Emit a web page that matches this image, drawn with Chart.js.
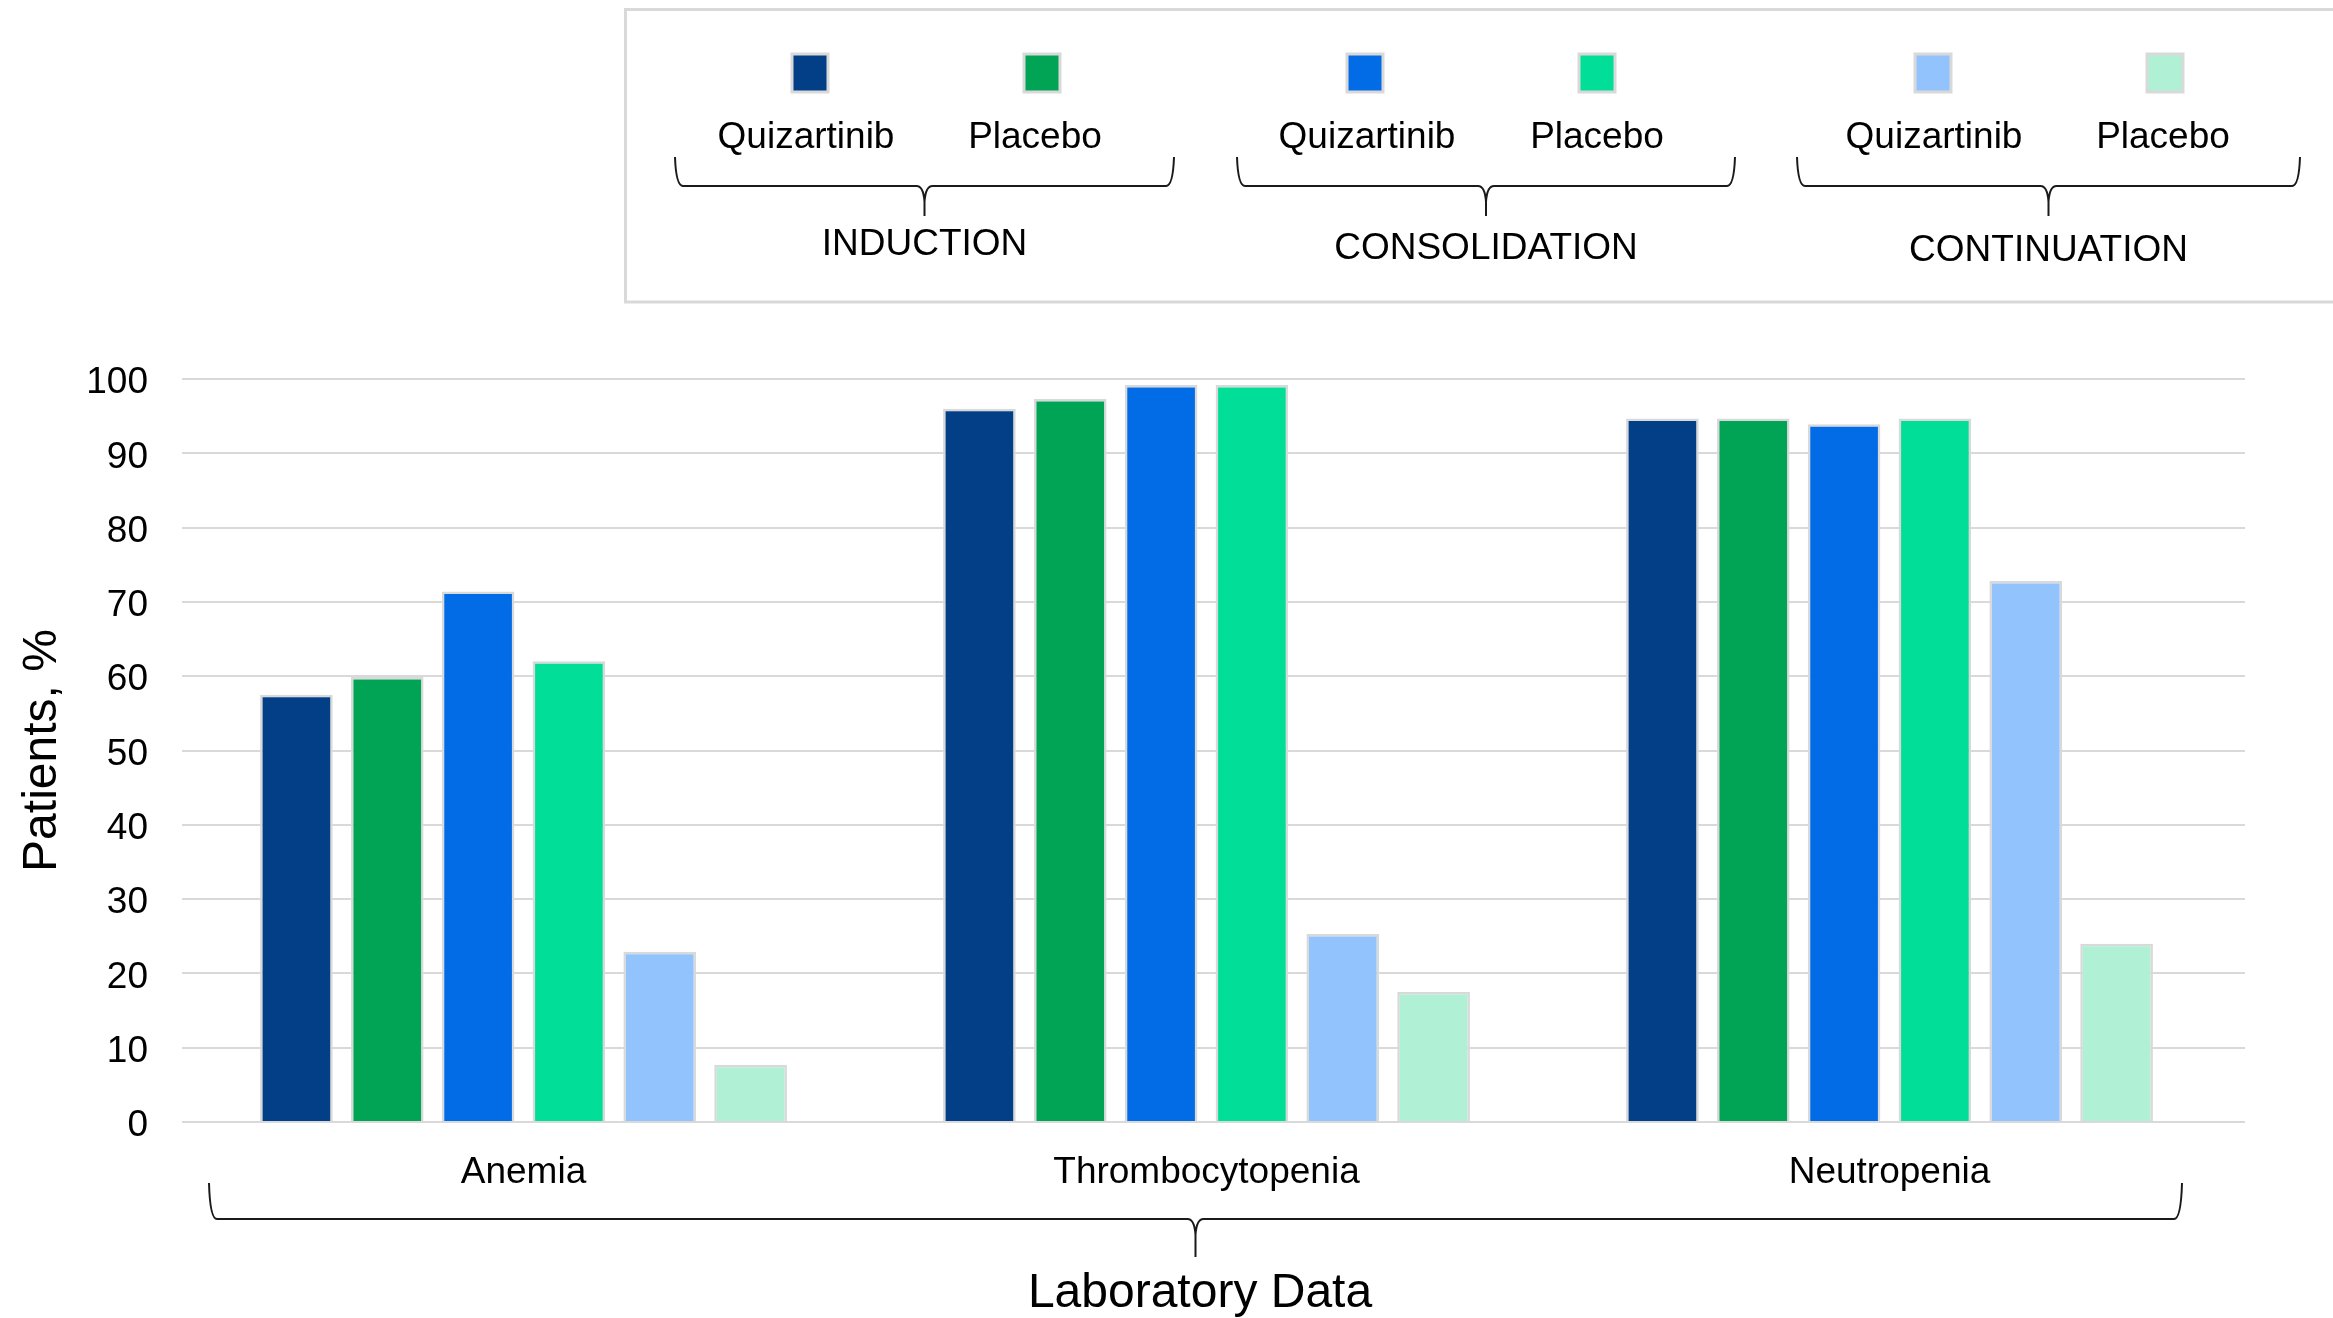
<!DOCTYPE html>
<html>
<head>
<meta charset="utf-8">
<script src="https://cdn.jsdelivr.net/npm/chart.js@4.4.1/dist/chart.umd.min.js"></script>
<style>
  body { margin: 0; background: #ffffff; }
  #lab-chart { display: block; }
</style>
</head>
<body>
<canvas id="lab-chart" width="2333" height="1318"></canvas>
<script>
// categories and series
const categories = ["Anemia", "Thrombocytopenia", "Neutropenia"];
const phases = ["INDUCTION", "CONSOLIDATION", "CONTINUATION"];
const arms = ["Quizartinib", "Placebo"];

const inductionQuizartinib = [57.5, 96.0, 94.7];
const inductionPlacebo = [59.9, 97.3, 94.7];
const consolidationQuizartinib = [71.4, 99.2, 93.9];
const consolidationPlacebo = [62.0, 99.2, 94.7];
const continuationQuizartinib = [22.9, 25.3, 72.8];
const continuationPlacebo = [7.7, 17.5, 24.0];

const yTicks = [0, 10, 20, 30, 40, 50, 60, 70, 80, 90, 100];
const yTitle = "Patients, %";
const xTitle = "Laboratory Data";

const seriesValues = [
    inductionQuizartinib, inductionPlacebo,
    consolidationQuizartinib, consolidationPlacebo,
    continuationQuizartinib, continuationPlacebo
];
const seriesColors = ["#033f87", "#00a454", "#026be6", "#00de98", "#93c3fc", "#b0f0d4"];

const FONT = "'Liberation Sans', Arial, sans-serif";
const GRID_RIGHT = 2245; // gridlines run a bit past the last category

function drawBrace(ctx, x1, x2, yTop, yMid, yTip) {
    var xc = (x1 + x2) / 2;
    var r = 8;
    ctx.beginPath();
    ctx.moveTo(x1, yTop);
    ctx.quadraticCurveTo(x1 + 1, yMid, x1 + r, yMid);
    ctx.lineTo(xc - r, yMid);
    ctx.quadraticCurveTo(xc - 1, yMid, xc, yMid + 2 * r);
    ctx.lineTo(xc, yTip);
    ctx.moveTo(x2, yTop);
    ctx.quadraticCurveTo(x2 - 1, yMid, x2 - r, yMid);
    ctx.lineTo(xc + r, yMid);
    ctx.quadraticCurveTo(xc + 1, yMid, xc, yMid + 2 * r);
    ctx.stroke();
}

// stretch the horizontal gridlines to the right edge of the frame
const gridTail = {
    id: "gridTail",
    beforeDatasetsDraw(chart) {
        const ctx = chart.ctx;
        const y = chart.scales.y;
        ctx.save();
        ctx.strokeStyle = "#d9d9d9";
        ctx.lineWidth = 2;
        y.ticks.forEach(function (t) {
            var py = Math.round(y.getPixelForValue(t.value));
            ctx.beginPath();
            ctx.moveTo(chart.chartArea.right - 1, py);
            ctx.lineTo(GRID_RIGHT, py);
            ctx.stroke();
        });
        ctx.restore();
    }
};

// grouped legend on top and the brace under the categories
const braceLegend = {
    id: "braceLegend",
    afterDraw(chart) {
        const ctx = chart.ctx;
        ctx.save();

        ctx.strokeStyle = "#d9d9d9";
        ctx.lineWidth = 3;
        ctx.strokeRect(625.5, 9.5, 1800, 292.5);

        const swatchX = [810, 1042, 1365, 1597, 1933, 2165];
        const labelX = [806, 1035, 1367, 1597, 1934, 2163];
        const braceRange = [[675, 1174], [1237, 1735], [1797, 2300]];
        const phaseBase = [255, 259, 261];

        ctx.font = "37px " + FONT;
        ctx.textAlign = "center";
        ctx.textBaseline = "alphabetic";

        chart.data.datasets.forEach(function (ds, i) {
            var x = swatchX[i];
            ctx.fillStyle = ds.backgroundColor;
            ctx.fillRect(x - 18, 54, 36, 38);
            ctx.strokeStyle = "#d9d9d9";
            ctx.lineWidth = 3;
            ctx.strokeRect(x - 18, 54, 36, 38);
            ctx.fillStyle = "#000000";
            ctx.fillText(arms[i % 2], labelX[i], 148);
        });

        ctx.strokeStyle = "#1a1a1a";
        ctx.lineWidth = 2;
        phases.forEach(function (p, g) {
            var r = braceRange[g];
            drawBrace(ctx, r[0], r[1], 157, 186, 216);
            ctx.fillStyle = "#000000";
            ctx.fillText(p, (r[0] + r[1]) / 2, phaseBase[g]);
        });

        // bottom brace + axis title
        drawBrace(ctx, 209, 2182, 1183, 1219, 1257);
        ctx.font = "48px " + FONT;
        ctx.fillStyle = "#000000";
        ctx.fillText(xTitle, 1200, 1307);

        ctx.restore();
    }
};

document.addEventListener("DOMContentLoaded", function () {
    var ctx = document.getElementById("lab-chart").getContext("2d");

    var datasets = seriesValues.map(function (vals, i) {
        return {
            label: phases[Math.floor(i / 2)] + " " + arms[i % 2],
            data: vals,
            backgroundColor: seriesColors[i],
            borderColor: "#d9d9d9",
            borderWidth: 2.5,
            barPercentage: 0.8,
            categoryPercentage: 0.798
        };
    });

    new Chart(ctx, {
        type: "bar",
        data: { labels: categories, datasets: datasets },
        plugins: [gridTail, braceLegend],
        options: {
            responsive: false,
            animation: false,
            layout: { padding: { top: 379, right: 102, left: 0, bottom: 0 } },
            scales: {
                x: {
                    grid: { display: false },
                    border: { display: false },
                    ticks: { color: "#000000", font: { family: FONT, size: 37 }, padding: 21 },
                    afterFit: function (scale) { scale.height = 196; }
                },
                y: {
                    min: 0,
                    max: 100,
                    afterBuildTicks: function (scale) {
                        scale.ticks = yTicks.map(function (v) { return { value: v }; });
                    },
                    grid: { color: "#d9d9d9", lineWidth: 2, drawTicks: false },
                    border: { display: false },
                    ticks: { color: "#000000", font: { family: FONT, size: 37 }, padding: 34, labelOffset: 4 },
                    title: {
                        display: true,
                        text: yTitle,
                        color: "#000000",
                        font: { family: FONT, size: 48 },
                        padding: { top: 14, bottom: 0 }
                    },
                    afterFit: function (scale) { scale.width = 182; }
                }
            },
            plugins: {
                legend: { display: false },
                tooltip: { enabled: false }
            }
        }
    });
});
</script>
</body>
</html>
